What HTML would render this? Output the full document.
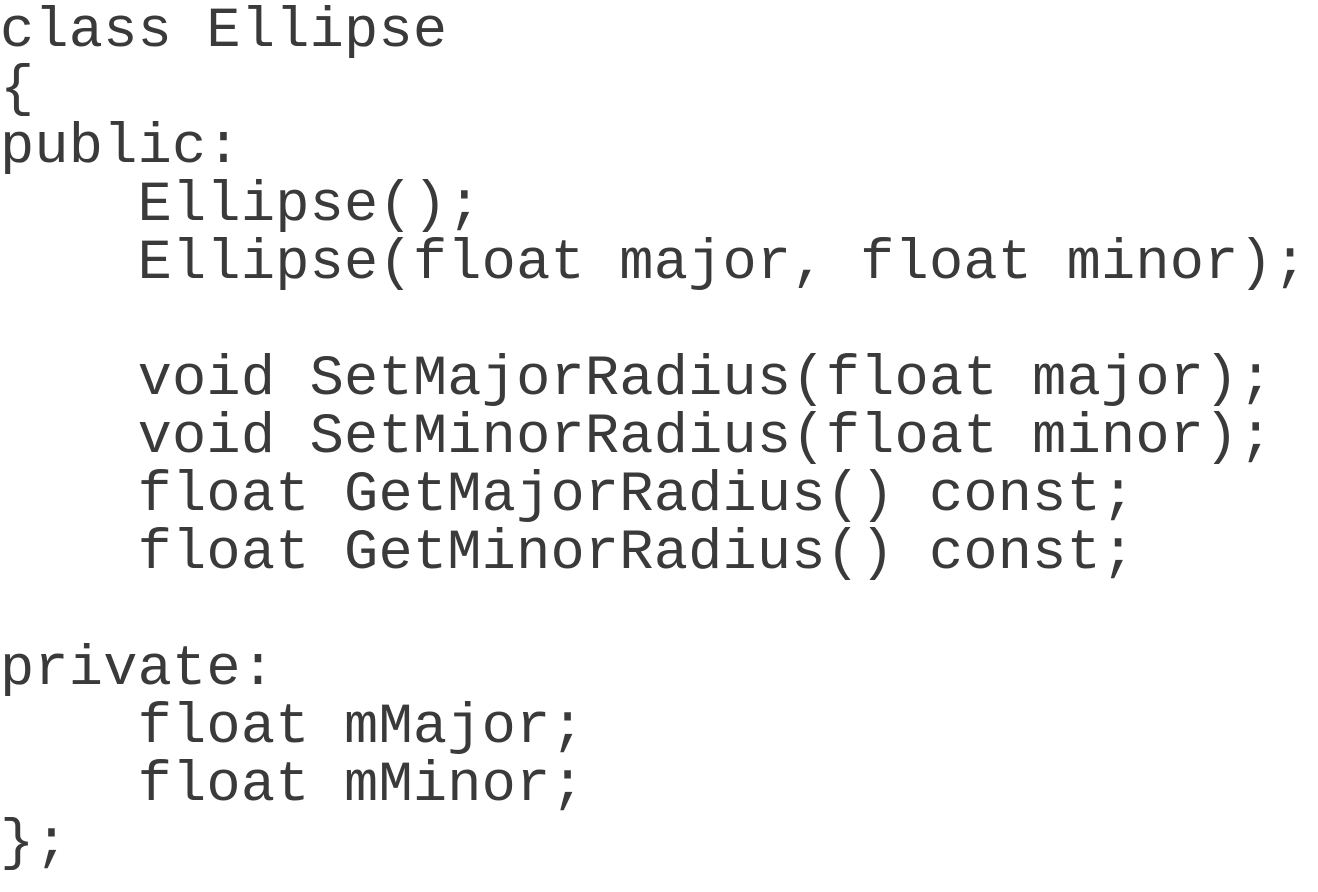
<!DOCTYPE html>
<html><head><meta charset="utf-8"><style>
html,body{margin:0;padding:0;background:#fff;width:1318px;height:892px;overflow:hidden}
pre{margin:0;padding:3px 0 0 0;font-family:"Liberation Mono",monospace;font-size:57px;line-height:58px;color:#3a3a3a;letter-spacing:0.2px}
</style></head><body><pre>class Ellipse
{
public:
    Ellipse();
    Ellipse(float major, float minor);

    void SetMajorRadius(float major);
    void SetMinorRadius(float minor);
    float GetMajorRadius() const;
    float GetMinorRadius() const;

private:
    float mMajor;
    float mMinor;
};</pre></body></html>
